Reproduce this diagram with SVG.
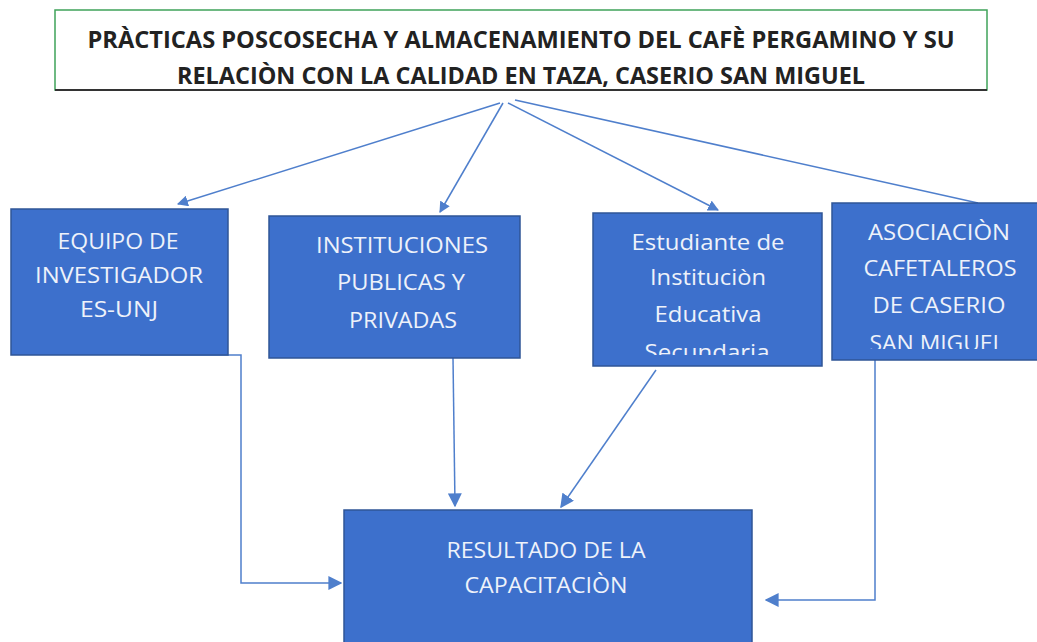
<svg xmlns="http://www.w3.org/2000/svg" width="1037" height="642" viewBox="0 0 1037 642">
<defs>
<style>
.box{fill:#3d70cc;stroke:#2f5597;stroke-width:1.5}
.bt{font-family:"Open Sans","Liberation Sans",sans-serif;font-size:22px;fill:#eef2fa;text-anchor:middle}
.tt{font-family:"Open Sans","Liberation Sans",sans-serif;font-size:23px;font-weight:bold;fill:#222;text-anchor:middle}
.ln{fill:none;stroke:#4f7fcc;stroke-width:1.5}
</style>
<marker id="ah" viewBox="0 0 10 10" refX="9" refY="5" markerWidth="11" markerHeight="11" markerUnits="userSpaceOnUse" orient="auto">
<path d="M0,0 L10,5 L0,10 z" fill="#4f7fcc"/>
</marker>
<marker id="ahl" viewBox="0 0 10 10" refX="9" refY="5" markerWidth="14" markerHeight="14" markerUnits="userSpaceOnUse" orient="auto">
<path d="M0,0 L10,5 L0,10 z" fill="#4f7fcc"/>
</marker>
<clipPath id="c3"><rect x="593" y="213" width="229" height="142"/></clipPath>
<clipPath id="c4"><rect x="832" y="203" width="205" height="146"/></clipPath>
</defs>
<rect width="1037" height="642" fill="#ffffff"/>
<g id="title">
<rect x="55" y="10" width="932" height="80" fill="#fff" stroke="#3fa35a" stroke-width="1.5"/>
<line x1="55" y1="90" x2="987" y2="90" stroke="#333" stroke-width="2"/>
<text class="tt" x="521" y="48" textLength="867" lengthAdjust="spacingAndGlyphs">PRÀCTICAS POSCOSECHA Y ALMACENAMIENTO DEL CAFÈ PERGAMINO Y SU</text>
<text class="tt" x="521" y="84" textLength="688" lengthAdjust="spacingAndGlyphs">RELACIÒN CON LA CALIDAD EN TAZA, CASERIO SAN MIGUEL</text>
</g>
<g id="connectors">
<line class="ln" x1="500" y1="103" x2="178" y2="204" marker-end="url(#ah)"/>
<line class="ln" x1="503" y1="103" x2="440" y2="212" marker-end="url(#ah)"/>
<line class="ln" x1="508" y1="103" x2="718" y2="210" marker-end="url(#ah)"/>
<line class="ln" x1="515" y1="100" x2="978" y2="203"/>
<polyline class="ln" points="140,355 241,355 241,583 341,583" marker-end="url(#ahl)"/>
<line class="ln" x1="453" y1="358" x2="455" y2="506" marker-end="url(#ahl)"/>
<line class="ln" x1="656" y1="370" x2="561" y2="507" marker-end="url(#ahl)"/>
<polyline class="ln" points="875,360 875,600 766,600" marker-end="url(#ahl)"/>
</g>
<g id="n1">
<rect class="box" x="11" y="209" width="217" height="146"/>
<text class="bt" x="118" y="249" textLength="121" lengthAdjust="spacingAndGlyphs">EQUIPO DE</text>
<text class="bt" x="119" y="283" textLength="168" lengthAdjust="spacingAndGlyphs">INVESTIGADOR</text>
<text class="bt" x="119" y="317" textLength="78" lengthAdjust="spacingAndGlyphs">ES-UNJ</text>
</g>
<g id="n2">
<rect class="box" x="269" y="216" width="251" height="142"/>
<text class="bt" x="402" y="253" textLength="172" lengthAdjust="spacingAndGlyphs">INSTITUCIONES</text>
<text class="bt" x="401" y="290" textLength="128" lengthAdjust="spacingAndGlyphs">PUBLICAS Y</text>
<text class="bt" x="403" y="328" textLength="108" lengthAdjust="spacingAndGlyphs">PRIVADAS</text>
</g>
<g id="n3">
<rect class="box" x="593" y="213" width="229" height="153"/>
<g clip-path="url(#c3)">
<text class="bt" x="708" y="250" textLength="153" lengthAdjust="spacingAndGlyphs">Estudiante de</text>
<text class="bt" x="708" y="285" textLength="116" lengthAdjust="spacingAndGlyphs">Instituciòn</text>
<text class="bt" x="708" y="322" textLength="107" lengthAdjust="spacingAndGlyphs">Educativa</text>
<text class="bt" x="707" y="360" textLength="125" lengthAdjust="spacingAndGlyphs">Secundaria</text>
</g>
</g>
<g id="n4">
<rect class="box" x="832" y="203" width="210" height="157"/>
<g clip-path="url(#c4)">
<text class="bt" x="939" y="240" textLength="142" lengthAdjust="spacingAndGlyphs">ASOCIACIÒN</text>
<text class="bt" x="940" y="276" textLength="153" lengthAdjust="spacingAndGlyphs">CAFETALEROS</text>
<text class="bt" x="939" y="313" textLength="133" lengthAdjust="spacingAndGlyphs">DE CASERIO</text>
<text class="bt" x="937" y="351" textLength="135" lengthAdjust="spacingAndGlyphs">SAN MIGUEL</text>
</g>
</g>
<g id="n5">
<rect class="box" x="344" y="510" width="408" height="140"/>
<text class="bt" x="546" y="558" textLength="199" lengthAdjust="spacingAndGlyphs">RESULTADO DE LA</text>
<text class="bt" x="546" y="593" textLength="163" lengthAdjust="spacingAndGlyphs">CAPACITACIÒN</text>
</g>
</svg>
